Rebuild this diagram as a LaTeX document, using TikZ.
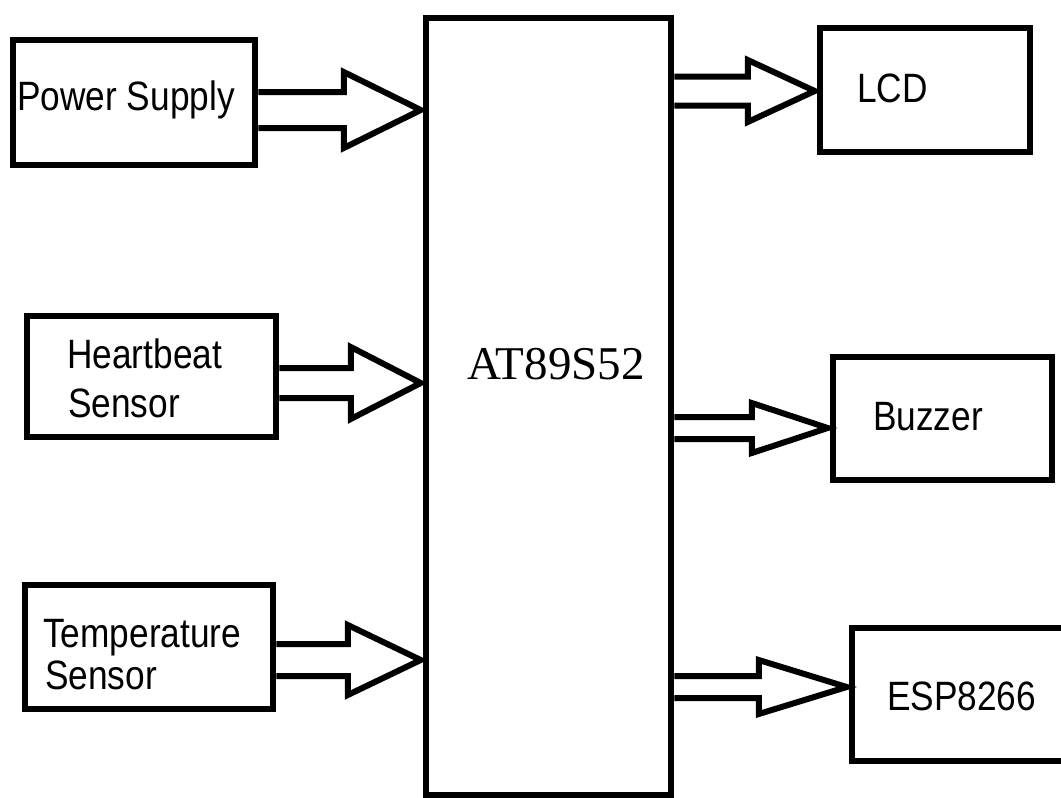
\documentclass[tikz,border=0pt]{standalone}
\usepackage{fontspec}
\setmainfont{Liberation Serif}
\newfontfamily\blockfont[FakeStretch=0.86]{Liberation Sans}
\usetikzlibrary{calc}
% hollow block arrow: from, to, y, shaft half width, head half width, head length
\newcommand{\fatarrow}[6]{%
  \draw [arrowline] let \p1=(#1.east), \p2=(#2.west), \p3=(0,#3) in
    (\x1,\y3+#4pt) -- (\x2-#6pt,\y3+#4pt) -- (\x2-#6pt,\y3+#5pt) -- (\x2-2pt,\y3)
    -- (\x2-#6pt,\y3-#5pt) -- (\x2-#6pt,\y3-#4pt) -- (\x1,\y3-#4pt);}
\begin{document}
\begin{tikzpicture}[x=1pt,y=-1pt,
  block/.style={draw, line width=6.5pt, inner sep=0pt},
  arrowline/.style={line width=6pt, line join=miter},
  lbl/.style={font={\blockfont\fontsize{41}{45}\selectfont}, inner sep=0pt, anchor=base west}]
\useasboundingbox (0,0) rectangle (1061,798);
% blocks
\node [block, minimum width=242pt, minimum height=125pt] (psu) at (134,102.5) {};
\node [block, minimum width=249pt, minimum height=121pt] (hbs) at (151.5,376.5) {};
\node [block, minimum width=248pt, minimum height=124pt] (tmp) at (149,647) {};
\node [block, minimum width=245pt, minimum height=777pt] (mcu) at (548.5,406.5) {};
\node [block, minimum width=210pt, minimum height=124pt] (lcd) at (925,90) {};
\node [block, minimum width=219pt, minimum height=123pt] (buz) at (942.5,418.5) {};
\node [block, minimum width=220pt, minimum height=133pt] (esp) at (962,694.5) {};
% texts
\node [lbl] (psutxt) at (17,110) {Power Supply};
\node [lbl] (hbstxt1) at (67,368) {Heartbeat};
\node [lbl] (hbstxt2) at (68,417) {Sensor};
\node [lbl] (tmptxt1) at (43,647) {Temperature};
\node [lbl] (tmptxt2) at (45,689) {Sensor};
\node [lbl] (lcdtxt) at (857,102) {LCD};
\node [lbl] (buztxt) at (873,430) {Buzzer};
\node [lbl] (esptxt) at (887,710) {ESP8266};
\node [anchor=base west, inner sep=0pt, font=\fontsize{47}{52}\selectfont] (mcutxt) at (467,379) {AT89S52};
% arrows
\fatarrow{psu}{mcu}{110}{18}{38}{79}
\fatarrow{hbs}{mcu}{383}{15}{36}{72}
\fatarrow{tmp}{mcu}{660}{16}{35}{75}
\fatarrow{mcu}{lcd}{91}{14.5}{31}{69}
\fatarrow{mcu}{buz}{428}{11}{25}{78}
\fatarrow{mcu}{esp}{687}{11}{27}{90}
\end{tikzpicture}
\end{document}
